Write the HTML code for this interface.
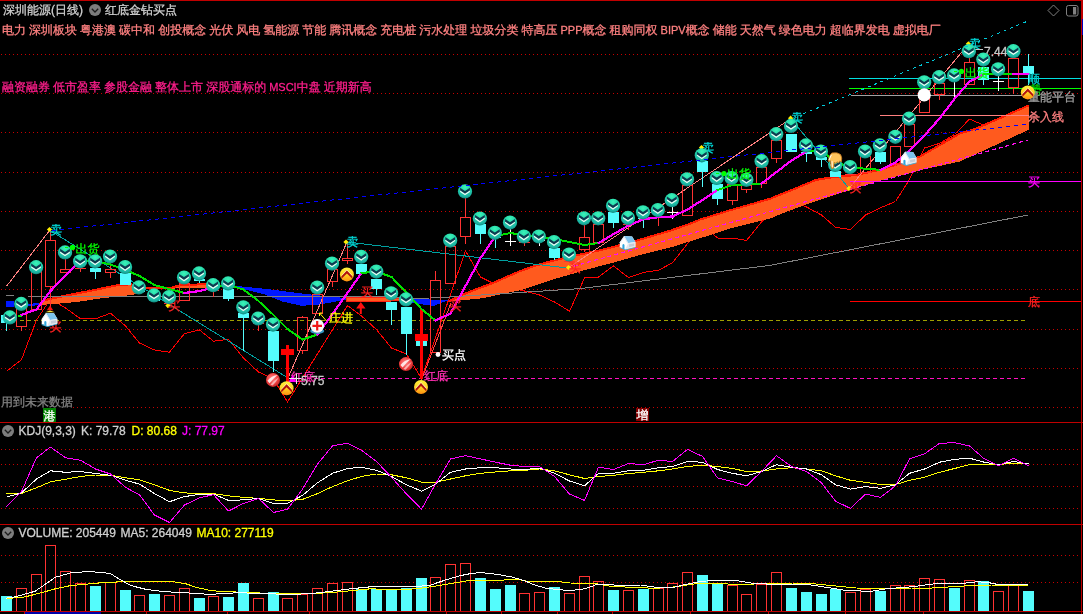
<!DOCTYPE html><html><head><meta charset="utf-8"><title>chart</title><style>html,body{margin:0;padding:0;background:#000;overflow:hidden}svg{display:block}</style></head><body><svg width="1083" height="614" viewBox="0 0 1083 614">
<defs>
<radialGradient id="gT" cx="50%" cy="22%" r="80%"><stop offset="0" stop-color="#3cf4b8"/><stop offset="0.45" stop-color="#22d4a8"/><stop offset="0.8" stop-color="#1cb4a4"/><stop offset="1" stop-color="#0e7c72"/></radialGradient>
<linearGradient id="gO" x1="0" y1="0" x2="0" y2="1"><stop offset="0" stop-color="#fff23c"/><stop offset="0.5" stop-color="#ffd422"/><stop offset="1" stop-color="#ff8e10"/></linearGradient>
<radialGradient id="gR" cx="45%" cy="40%" r="65%"><stop offset="0" stop-color="#ff8a8a"/><stop offset="0.6" stop-color="#f04040"/><stop offset="1" stop-color="#c02020"/></radialGradient>
<radialGradient id="gW" cx="50%" cy="45%" r="60%"><stop offset="0" stop-color="#ffffff"/><stop offset="0.85" stop-color="#f6f6f6"/><stop offset="1" stop-color="#c8c8c8"/></radialGradient>
<g id="icT"><circle r="7.1" fill="url(#gT)"/><path d="M-4.9,-3.6 L0,-0.4 L4.9,-3.6 L4.9,-0.9 L0,2.4 L-4.9,-0.9Z" fill="#0e3a50"/><path d="M-4.9,-0.9 L0,2.4 L4.9,-0.9 L4.9,0.5 L0,3.9 L-4.9,0.5Z" fill="#eef8f4"/></g>
<g id="icO"><circle r="7" fill="url(#gO)"/><path d="M-5.4,0.8 L0,-5 L5.4,0.8 L5.4,1.9 L0,-3.9 L-5.4,1.9Z" fill="#fff4cc"/><path d="M-5.4,1.9 L0,-3.9 L5.4,1.9 L5.4,4.4 L0,-1 L-5.4,4.4Z" fill="#b01010"/></g>
<g id="icR"><circle r="7" fill="url(#gR)"/><path d="M-5.6,0.8 Q-1.5,-4.4 4.6,-4.9 Q0.8,-2 -3.4,3.4Z" fill="#fff" opacity="0.82"/><path d="M-2.6,4.8 Q1,0.4 5.8,-2.4 Q3.4,1.8 -0.4,5.6Z" fill="#ffd8d8" opacity="0.7"/></g>
<g id="icP"><ellipse cx="0" cy="5.2" rx="7" ry="3" fill="#3aa8d8" opacity="0.9"/><circle r="6.9" fill="url(#gW)"/><path d="M-4.8,0H4.8M0,-4.8V4.8" stroke="#f01818" stroke-width="2.2" fill="none"/></g>
<g id="icH"><path d="M-7.8,-0.5 L-3.5,-6.6 L4.5,-6.2 L7.8,-0.8 L7.8,4.2 L-2.2,6.8 L-7.8,4.6Z" fill="#ffffff"/><path d="M-3.5,-6.6 L4.5,-6.2 L7.9,-0.6 L0.6,0.4Z" fill="#7cc4ee"/><path d="M-3.5,-6.6 L0.6,0.4 L0.3,1.4 L-3.6,-5 L-7.4,0.6 L-7.9,-0.3Z" fill="#dfe8f2"/><path d="M0.6,0.6 L7.8,-0.6 L7.8,4.2 L-2.2,6.8 L-2.2,6 Z" fill="#e4e8ee"/><path d="M1.5,1.6 L6.6,0.7 L6.6,3.2 L1.5,4.3Z" fill="#c4ccd8"/><path d="M-5.2,6 L-5.2,2.2 Q-4.2,0.6 -3.1,2.2 L-3.1,6.6Z" fill="#2ea4dc"/><path d="M-7.8,4.6 L-2.2,6.8 L7.8,4.2 L7.8,5 L-2.2,7.6 L-7.8,5.4Z" fill="#38b4e4"/></g>
<g id="icHand"><path d="M-3.2,-7.6 Q2.5,-8.8 5.6,-6 Q7.4,-3 6.4,1.2 L4.6,0.4 L3.8,2.2 L2,1.2 L1,2.8 L-0.8,1.8 L-1.4,7.4 Q-2.6,8.6 -3.8,7.4 L-4.4,0.2 L-6.6,0.8 Q-6.2,-5 -3.2,-7.6Z" fill="#ffc45c" stroke="#c47820" stroke-width="0.9"/><path d="M-3.6,-5.8 L-6,-0.6" stroke="#fff" stroke-width="1"/><path d="M-3,0.5 L-2.6,6.4" stroke="#fff2d8" stroke-width="1.1"/></g>
<g id="icDn"><circle r="6" fill="#7d7d7d"/><path d="M-3.2,-1.2 L0,2 L3.2,-1.2" fill="none" stroke="#1c1c1c" stroke-width="1.3"/></g>

</defs>
<rect width="1083" height="614" fill="#000"/>
<g font-family="'Liberation Sans','WenQuanYi Zen Hei','Noto Sans CJK SC',sans-serif">
<line x1="1" y1="54.5" x2="1081" y2="54.5" stroke="#c80000" stroke-width="1" stroke-dasharray="1 3" shape-rendering="crispEdges"/>
<line x1="1" y1="93.5" x2="1081" y2="93.5" stroke="#c80000" stroke-width="1" stroke-dasharray="1 3" shape-rendering="crispEdges"/>
<line x1="1" y1="132.5" x2="1081" y2="132.5" stroke="#c80000" stroke-width="1" stroke-dasharray="1 3" shape-rendering="crispEdges"/>
<line x1="1" y1="172.5" x2="1081" y2="172.5" stroke="#c80000" stroke-width="1" stroke-dasharray="1 3" shape-rendering="crispEdges"/>
<line x1="1" y1="211.5" x2="1081" y2="211.5" stroke="#c80000" stroke-width="1" stroke-dasharray="1 3" shape-rendering="crispEdges"/>
<line x1="1" y1="250.5" x2="1081" y2="250.5" stroke="#c80000" stroke-width="1" stroke-dasharray="1 3" shape-rendering="crispEdges"/>
<line x1="1" y1="289.5" x2="1081" y2="289.5" stroke="#c80000" stroke-width="1" stroke-dasharray="1 3" shape-rendering="crispEdges"/>
<line x1="1" y1="329.5" x2="1081" y2="329.5" stroke="#c80000" stroke-width="1" stroke-dasharray="1 3" shape-rendering="crispEdges"/>
<line x1="1" y1="368.5" x2="1081" y2="368.5" stroke="#c80000" stroke-width="1" stroke-dasharray="1 3" shape-rendering="crispEdges"/>
<line x1="1" y1="407.5" x2="1081" y2="407.5" stroke="#c80000" stroke-width="1" stroke-dasharray="1 3" shape-rendering="crispEdges"/>
<line x1="1" y1="449.5" x2="1081" y2="449.5" stroke="#c80000" stroke-width="1" stroke-dasharray="1 3" shape-rendering="crispEdges"/>
<line x1="1" y1="464.5" x2="1081" y2="464.5" stroke="#c80000" stroke-width="1" stroke-dasharray="1 3" shape-rendering="crispEdges"/>
<line x1="1" y1="486.5" x2="1081" y2="486.5" stroke="#c80000" stroke-width="1" stroke-dasharray="1 3" shape-rendering="crispEdges"/>
<line x1="1" y1="508.5" x2="1081" y2="508.5" stroke="#c80000" stroke-width="1" stroke-dasharray="1 3" shape-rendering="crispEdges"/>
<line x1="1" y1="555.5" x2="1081" y2="555.5" stroke="#c80000" stroke-width="1" stroke-dasharray="1 3" shape-rendering="crispEdges"/>
<line x1="1" y1="582.5" x2="1081" y2="582.5" stroke="#c80000" stroke-width="1" stroke-dasharray="1 3" shape-rendering="crispEdges"/>
<text x="3" y="14" fill="#d0d0d0" stroke="#d0d0d0" stroke-width="0.3" font-size="12" >深圳能源(日线)</text>
<use href="#icDn" x="95" y="10"/>
<text x="105" y="14" fill="#d0d0d0" stroke="#d0d0d0" stroke-width="0.3" font-size="12" >红底金钻买点</text>
<text x="2" y="34" fill="#ff8080" stroke="#ff8080" stroke-width="0.3" font-size="12" word-spacing="-0.3">电力 深圳板块 粤港澳 碳中和 创投概念 光伏 风电 氢能源 节能 腾讯概念 充电桩 污水处理 垃圾分类 特高压 <tspan font-size="11">PPP</tspan>概念 租购同权 <tspan font-size="11">BIPV</tspan>概念 储能 天然气 绿色电力 超临界发电 虚拟电厂</text>
<text x="2" y="91" fill="#ff1e8c" stroke="#ff1e8c" stroke-width="0.3" font-size="12" word-spacing="-0.3">融资融券 低市盈率 参股金融 整体上市 深股通标的 <tspan font-size="11">MSCI</tspan>中盘 近期新高</text>
<line x1="20" y1="320.5" x2="1028" y2="320.5" stroke="#a0a000" stroke-width="1" stroke-dasharray="4 3" shape-rendering="crispEdges"/>
<line x1="300" y1="378.5" x2="1028" y2="378.5" stroke="#ff10c0" stroke-width="1" stroke-dasharray="4 3" shape-rendering="crispEdges"/>
<polyline points="6.5,371.3 21.5,359.6 36.5,320.0 50.5,299.0 65.5,308.0 80.5,318.8 95.5,318.8 110.5,313.2 125.5,326.0 139.5,343.0 154.5,350.0 169.5,352.2 184.5,333.5 199.5,330.0 213.5,341.2 228.5,339.4 243.5,358.0 258.5,372.0 273.5,379.0 287.5,402.0 347.5,305.6 361.5,316.0 376.5,329.6 391.5,348.0 406.5,354.0 421.5,378.5 465.5,250.8 480.5,277.0 495.5,284.5 510.5,288.0 524.5,291.0 539.5,295.0 554.5,302.0 569.5,311.2 584.5,278.0 598.5,277.1 613.5,265.9 628.5,277.6 643.5,272.4 658.5,270.2 672.5,262.8 687.5,243.6 702.5,225.0 717.5,238.0 732.5,238.0 746.5,240.5 761.5,222.0 776.5,206.0 791.5,200.0 806.5,207.0 821.5,215.0 835.5,227.3 850.5,229.5 865.5,215.0 880.5,207.8 895.5,201.5 909.5,179.5 924.5,148.0 939.5,143.4 954.5,134.5 969.5,119.1 983.5,125.0 998.5,122.0" fill="none" stroke="#ff0000" stroke-width="1" stroke-linejoin="round" shape-rendering="crispEdges" />
<polygon points="38.0,304.5 44.0,299.5 58.6,296.3 97.7,288.5 119.0,284.0 131.0,283.6 147.0,287.2 170.0,287.2 180.0,284.5 204.0,283.4 236.0,286.0 236.0,286.0 204.0,288.5 180.0,288.4 170.0,288.6 147.0,288.8 140.0,293.0 133.7,294.7 97.7,298.8 77.0,302.0 58.6,303.6 45.0,304.6 38.0,305.5" fill="#ff5a1e" shape-rendering="crispEdges"/>
<polyline points="38.0,305.3 44.0,300.3 58.6,297.1 97.7,289.3 119.0,284.8 131.0,284.4 147.0,288.0 170.0,288.0 180.0,285.3 204.0,284.2 236.0,286.8" fill="none" stroke="#ff1800" stroke-width="2" stroke-linejoin="round" shape-rendering="crispEdges" />
<polygon points="235.5,285.9 264.3,288.7 301.4,293.4 329.3,296.5 346.0,298.0 346.0,299.5 334.8,301.7 320.0,304.5 301.4,305.8 282.9,301.7 264.3,294.3 245.7,289.6" fill="#0018ff" shape-rendering="crispEdges"/>
<polygon points="346.0,298.0 380.0,297.5 399.0,298.5 399.0,300.5 380.0,301.7 346.0,301.0" fill="#ff5a1e" stroke="#ff2010" stroke-width="1" shape-rendering="crispEdges"/>
<polygon points="399.0,299.2 449.6,299.7 433.9,305.8 415.0,303.5" fill="#0018ff" shape-rendering="crispEdges"/>
<polygon points="449.3,300.3 463.9,293.3 477.7,287.8 491.6,282.9 505.4,276.7 519.3,270.7 533.1,265.6 547.0,261.5 560.8,258.0 574.7,254.8 600.0,249.5 610.0,247.0 640.0,238.8 670.0,230.0 690.0,223.0 700.0,218.8 730.0,209.5 770.0,198.0 797.7,186.8 815.7,179.2 832.3,176.4 855.9,174.3 880.8,168.8 900.2,162.5 920.0,155.6 960.0,132.7 975.9,127.9 1028.8,104.6 1028.8,129.7 960.0,161.5 920.0,170.2 908.5,173.6 887.7,178.5 867.0,184.7 847.6,190.9 825.4,197.9 803.2,205.5 778.3,215.0 770.0,218.6 730.0,228.5 700.0,238.3 670.0,247.6 640.0,255.0 610.0,263.6 600.0,266.1 584.4,270.1 571.9,274.1 555.3,278.8 538.6,284.3 522.0,289.9 505.4,293.3 483.2,298.2 449.3,301.6" fill="#ff5a1e" shape-rendering="crispEdges"/>
<polyline points="449.3,301.1 463.9,294.1 477.7,288.6 491.6,283.7 505.4,277.5 519.3,271.5 533.1,266.4 547.0,262.3 560.8,258.8 574.7,255.6 600.0,250.3 610.0,247.8 640.0,239.6 670.0,230.8 690.0,223.8 700.0,219.6 730.0,210.3 770.0,198.8 797.7,187.6 815.7,180.0 832.3,177.2 855.9,175.1 880.8,169.6 900.2,163.3 920.0,156.4 960.0,133.5 975.9,128.7 1028.8,105.4" fill="none" stroke="#ff1800" stroke-width="2" stroke-linejoin="round" shape-rendering="crispEdges" />
<line x1="567" y1="268" x2="1028" y2="140" stroke="#ff10f0" stroke-width="1.2" stroke-dasharray="4 3" shape-rendering="crispEdges"/>
<rect x="6" y="301" width="8" height="6" fill="#0018ff"/>
<polygon points="28.0,304.0 38.5,303.0 38.5,305.2 28.0,306.2" fill="#0018ff" shape-rendering="crispEdges"/>
<g shape-rendering="crispEdges">
<rect x="849" y="78" width="232" height="1" fill="#00e0e0" />
<rect x="849" y="88" width="232" height="1" fill="#00ff00" />
<rect x="851" y="95" width="171" height="1" fill="#a0a0a0" />
<rect x="880" y="115" width="149" height="1" fill="#ff8080" />
<rect x="850" y="181" width="231" height="1" fill="#ff00ff" />
<rect x="850" y="301" width="231" height="1" fill="#ff0000" />
</g>
<polyline points="5.6,295.6 14.0,295.6" fill="none" stroke="#808080" stroke-width="1" stroke-linejoin="round" shape-rendering="crispEdges" />
<polyline points="28.0,296.6 200.0,296.6 390.0,296.5 413.4,298.8 450.0,297.0 580.0,288.6 770.0,265.4 900.0,240.0 1028.0,215.0" fill="none" stroke="#808080" stroke-width="1" stroke-linejoin="round" shape-rendering="crispEdges" />
<polyline points="6.5,286.3 49.5,230.5" fill="none" stroke="#ff8080" stroke-width="1" stroke-linejoin="round" shape-rendering="crispEdges" />
<polyline points="50.9,231.0 288.0,378.0" fill="none" stroke="#00a0a0" stroke-width="1" stroke-linejoin="round" shape-rendering="crispEdges" />
<polyline points="288.0,378.0 347.0,242.0" fill="none" stroke="#ff8080" stroke-width="1" stroke-linejoin="round" shape-rendering="crispEdges" />
<polyline points="347.0,242.0 567.0,268.0" fill="none" stroke="#00a0a0" stroke-width="1" stroke-linejoin="round" shape-rendering="crispEdges" />
<polyline points="421.5,380.0 451.0,303.0" fill="none" stroke="#ff4040" stroke-width="1" stroke-linejoin="round" shape-rendering="crispEdges" />
<polyline points="568.3,267.8 790.6,118.8" fill="none" stroke="#ff8080" stroke-width="1" stroke-linejoin="round" shape-rendering="crispEdges" />
<polyline points="790.6,118.5 849.0,188.4" fill="none" stroke="#00a0a0" stroke-width="1" stroke-linejoin="round" shape-rendering="crispEdges" />
<polyline points="849.0,188.4 968.4,44.0" fill="none" stroke="#ff8080" stroke-width="1" stroke-linejoin="round" shape-rendering="crispEdges" />
<g shape-rendering="crispEdges">
<rect x="6" y="315.0" width="1" height="15.5" fill="#54fcfc"/>
<rect x="1" y="315" width="11" height="8" fill="#54fcfc"/>
<rect x="21" y="325.6" width="1" height="4.9" fill="#ff3232"/>
<rect x="16.5" y="308.5" width="10" height="18" fill="none" stroke="#ff3232" stroke-width="1"/>
<rect x="31.5" y="271.5" width="10" height="38" fill="none" stroke="#ff3232" stroke-width="1"/>
<rect x="50" y="230.9" width="1" height="9.1" fill="#ff3232"/>
<rect x="50" y="286.0" width="1" height="21.0" fill="#ff3232"/>
<rect x="45.5" y="240.5" width="10" height="46" fill="none" stroke="#ff3232" stroke-width="1"/>
<rect x="65" y="259.0" width="1" height="10.0" fill="#ff3232"/>
<rect x="60.5" y="269.5" width="10" height="3" fill="none" stroke="#ff3232" stroke-width="1"/>
<rect x="80" y="267.0" width="1" height="4.9" fill="#ff3232"/>
<rect x="75" y="268" width="11" height="1" fill="#ff3232"/>
<rect x="95" y="268.0" width="1" height="10.7" fill="#54fcfc"/>
<rect x="90" y="268" width="11" height="4" fill="#54fcfc"/>
<rect x="110" y="263.0" width="1" height="6.0" fill="#ff3232"/>
<rect x="110" y="272.5" width="1" height="5.2" fill="#ff3232"/>
<rect x="105.5" y="269.5" width="10" height="3" fill="none" stroke="#ff3232" stroke-width="1"/>
<rect x="125" y="273.4" width="1" height="11.2" fill="#54fcfc"/>
<rect x="120" y="273" width="11" height="12" fill="#54fcfc"/>
<rect x="139" y="291.0" width="1" height="1.5" fill="#54fcfc"/>
<rect x="134" y="291" width="11" height="1" fill="#54fcfc"/>
<rect x="154" y="299.0" width="1" height="1.6" fill="#54fcfc"/>
<rect x="149" y="299" width="11" height="2" fill="#54fcfc"/>
<rect x="169" y="303.0" width="1" height="1.5" fill="#ff3232"/>
<rect x="164" y="303" width="11" height="1" fill="#ff3232"/>
<rect x="179.5" y="283.5" width="10" height="17" fill="none" stroke="#ff3232" stroke-width="1"/>
<rect x="199" y="278.8" width="1" height="4.0" fill="#54fcfc"/>
<rect x="194" y="279" width="11" height="2" fill="#54fcfc"/>
<rect x="213" y="290.0" width="1" height="7.0" fill="#ff3232"/>
<rect x="208" y="290" width="11" height="1" fill="#ff3232"/>
<rect x="228" y="289.0" width="1" height="11.8" fill="#54fcfc"/>
<rect x="223" y="289" width="11" height="10" fill="#54fcfc"/>
<rect x="243" y="313.2" width="1" height="37.8" fill="#54fcfc"/>
<rect x="238" y="313" width="11" height="5" fill="#54fcfc"/>
<rect x="258" y="323.0" width="1" height="7.6" fill="#ff3232"/>
<rect x="253" y="323" width="11" height="1" fill="#ff3232"/>
<rect x="273" y="330.6" width="1" height="40.9" fill="#54fcfc"/>
<rect x="268" y="331" width="11" height="30" fill="#54fcfc"/>
<rect x="302" y="316.3" width="1" height="1.0" fill="#ff3232"/>
<rect x="302" y="350.1" width="1" height="3.8" fill="#ff3232"/>
<rect x="297.5" y="317.5" width="10" height="33" fill="none" stroke="#ff3232" stroke-width="1"/>
<rect x="317" y="294.0" width="1" height="0.3" fill="#ff3232"/>
<rect x="312.5" y="294.5" width="10" height="19" fill="none" stroke="#ff3232" stroke-width="1"/>
<rect x="332" y="281.3" width="1" height="5.6" fill="#ff3232"/>
<rect x="327.5" y="269.5" width="10" height="12" fill="none" stroke="#ff3232" stroke-width="1"/>
<rect x="347" y="243.2" width="1" height="14.8" fill="#ff3232"/>
<rect x="347" y="260.5" width="1" height="3.1" fill="#ff3232"/>
<rect x="342.5" y="258.5" width="10" height="2" fill="none" stroke="#ff3232" stroke-width="1"/>
<rect x="361" y="264.0" width="1" height="9.9" fill="#54fcfc"/>
<rect x="356" y="264" width="11" height="10" fill="#54fcfc"/>
<rect x="376" y="279.0" width="1" height="16.2" fill="#54fcfc"/>
<rect x="371" y="279" width="11" height="10" fill="#54fcfc"/>
<rect x="391" y="302.5" width="1" height="22.3" fill="#54fcfc"/>
<rect x="386" y="302" width="11" height="8" fill="#54fcfc"/>
<rect x="406" y="307.1" width="1" height="47.4" fill="#54fcfc"/>
<rect x="401" y="307" width="11" height="27" fill="#54fcfc"/>
<rect x="435" y="271.2" width="1" height="8.5" fill="#ff3232"/>
<rect x="430.5" y="280.5" width="10" height="72" fill="none" stroke="#ff3232" stroke-width="1"/>
<rect x="445.5" y="246.5" width="10" height="37" fill="none" stroke="#ff3232" stroke-width="1"/>
<rect x="465" y="198.0" width="1" height="19.4" fill="#ff3232"/>
<rect x="465" y="236.3" width="1" height="7.6" fill="#ff3232"/>
<rect x="460.5" y="217.5" width="10" height="19" fill="none" stroke="#ff3232" stroke-width="1"/>
<rect x="480" y="223.9" width="1" height="20.0" fill="#54fcfc"/>
<rect x="475" y="224" width="11" height="10" fill="#54fcfc"/>
<rect x="495" y="237.0" width="1" height="10.6" fill="#54fcfc"/>
<rect x="490" y="237" width="11" height="1" fill="#54fcfc"/>
<rect x="510" y="229.0" width="1" height="16.8" fill="#ffffff"/>
<rect x="505" y="241" width="11" height="1" fill="#ffffff"/>
<rect x="524" y="241.6" width="1" height="4.2" fill="#ff3232"/>
<rect x="519" y="242" width="11" height="1" fill="#ff3232"/>
<rect x="539" y="240.0" width="1" height="5.8" fill="#ffffff"/>
<rect x="534" y="240" width="11" height="1" fill="#ffffff"/>
<rect x="554" y="248.0" width="1" height="12.0" fill="#54fcfc"/>
<rect x="549" y="248" width="11" height="10" fill="#54fcfc"/>
<rect x="569" y="260.0" width="1" height="3.0" fill="#ff3232"/>
<rect x="564" y="261" width="11" height="1" fill="#ff3232"/>
<rect x="584" y="224.7" width="1" height="11.9" fill="#ff3232"/>
<rect x="584" y="248.7" width="1" height="2.9" fill="#ff3232"/>
<rect x="579.5" y="237.5" width="10" height="12" fill="none" stroke="#ff3232" stroke-width="1"/>
<rect x="593.5" y="224.5" width="10" height="18" fill="none" stroke="#ff3232" stroke-width="1"/>
<rect x="613" y="212.0" width="1" height="15.5" fill="#54fcfc"/>
<rect x="608" y="212" width="11" height="11" fill="#54fcfc"/>
<rect x="628" y="224.0" width="1" height="5.7" fill="#ff3232"/>
<rect x="623" y="224" width="11" height="1" fill="#ff3232"/>
<rect x="643" y="218.0" width="1" height="9.5" fill="#54fcfc"/>
<rect x="638" y="218" width="11" height="1" fill="#54fcfc"/>
<rect x="658" y="216.4" width="1" height="9.2" fill="#ff3232"/>
<rect x="653" y="217" width="11" height="1" fill="#ff3232"/>
<rect x="672" y="207.0" width="1" height="11.8" fill="#ffffff"/>
<rect x="667" y="212" width="11" height="1" fill="#ffffff"/>
<rect x="682.5" y="185.5" width="10" height="30" fill="none" stroke="#ff3232" stroke-width="1"/>
<rect x="702" y="161.2" width="1" height="25.4" fill="#54fcfc"/>
<rect x="697" y="161" width="11" height="11" fill="#54fcfc"/>
<rect x="717" y="183.9" width="1" height="20.8" fill="#54fcfc"/>
<rect x="712" y="184" width="11" height="15" fill="#54fcfc"/>
<rect x="732" y="199.6" width="1" height="5.1" fill="#ff3232"/>
<rect x="727.5" y="184.5" width="10" height="16" fill="none" stroke="#ff3232" stroke-width="1"/>
<rect x="746" y="189.4" width="1" height="3.4" fill="#ff3232"/>
<rect x="741.5" y="185.5" width="10" height="4" fill="none" stroke="#ff3232" stroke-width="1"/>
<rect x="761" y="182.9" width="1" height="5.5" fill="#ff3232"/>
<rect x="756.5" y="167.5" width="10" height="16" fill="none" stroke="#ff3232" stroke-width="1"/>
<rect x="776" y="158.3" width="1" height="5.1" fill="#ff3232"/>
<rect x="771.5" y="140.5" width="10" height="18" fill="none" stroke="#ff3232" stroke-width="1"/>
<rect x="791" y="133.6" width="1" height="18.2" fill="#54fcfc"/>
<rect x="786" y="134" width="11" height="18" fill="#54fcfc"/>
<rect x="806" y="152.2" width="1" height="10.2" fill="#54fcfc"/>
<rect x="801" y="152" width="11" height="2" fill="#54fcfc"/>
<rect x="821" y="157.2" width="1" height="9.8" fill="#54fcfc"/>
<rect x="816" y="157" width="11" height="3" fill="#54fcfc"/>
<rect x="835" y="170.8" width="1" height="6.1" fill="#54fcfc"/>
<rect x="830" y="171" width="11" height="6" fill="#54fcfc"/>
<rect x="850" y="173.0" width="1" height="1.5" fill="#ff3232"/>
<rect x="845" y="174" width="11" height="1" fill="#ff3232"/>
<rect x="860.5" y="156.5" width="10" height="16" fill="none" stroke="#ff3232" stroke-width="1"/>
<rect x="880" y="152.2" width="1" height="11.7" fill="#54fcfc"/>
<rect x="875" y="152" width="11" height="10" fill="#54fcfc"/>
<rect x="895" y="163.6" width="1" height="2.5" fill="#ff3232"/>
<rect x="890.5" y="146.5" width="10" height="18" fill="none" stroke="#ff3232" stroke-width="1"/>
<rect x="904.5" y="124.5" width="10" height="22" fill="none" stroke="#ff3232" stroke-width="1"/>
<rect x="924" y="88.7" width="1" height="9.3" fill="#ff3232"/>
<rect x="924" y="111.8" width="1" height="1.4" fill="#ff3232"/>
<rect x="919.5" y="98.5" width="10" height="14" fill="none" stroke="#ff3232" stroke-width="1"/>
<rect x="939" y="94.4" width="1" height="5.9" fill="#ff3232"/>
<rect x="934.5" y="83.5" width="10" height="11" fill="none" stroke="#ff3232" stroke-width="1"/>
<rect x="954" y="76.0" width="1" height="20.5" fill="#ffffff"/>
<rect x="949" y="76" width="11" height="1" fill="#ffffff"/>
<rect x="969" y="57.0" width="1" height="5.3" fill="#ff3232"/>
<rect x="964.5" y="62.5" width="10" height="22" fill="none" stroke="#ff3232" stroke-width="1"/>
<rect x="983" y="67.4" width="1" height="17.2" fill="#54fcfc"/>
<rect x="978" y="67" width="11" height="13" fill="#54fcfc"/>
<rect x="998" y="75.7" width="1" height="14.9" fill="#ffffff"/>
<rect x="993" y="81" width="11" height="1" fill="#ffffff"/>
<rect x="1013" y="87.4" width="1" height="6.9" fill="#ff3232"/>
<rect x="1008.5" y="58.5" width="10" height="29" fill="none" stroke="#ff3232" stroke-width="1"/>
<rect x="1028" y="54.4" width="1" height="30.6" fill="#54fcfc"/>
<rect x="1023" y="66" width="11" height="8" fill="#54fcfc"/>
<rect x="286" y="345" width="3" height="37" fill="#ff0000"/><rect x="281" y="349" width="13" height="6" fill="#ff0000"/>
<rect x="416" y="341" width="11" height="5" fill="#54fcfc"/><rect x="420" y="309" width="3" height="70" fill="#ff0000"/><rect x="415" y="334" width="13" height="7" fill="#ff0000"/>
</g>
<rect x="18" y="315" width="4" height="2" fill="#00e000"/>
<line x1="21.5" y1="314.8" x2="36.5" y2="309.5" stroke="#ff00ff" stroke-width="2.2" stroke-linecap="square" shape-rendering="crispEdges"/>
<line x1="36.5" y1="309.5" x2="50.5" y2="291" stroke="#ff00ff" stroke-width="2.2" stroke-linecap="square" shape-rendering="crispEdges"/>
<line x1="50.5" y1="291" x2="65.5" y2="275.7" stroke="#ff00ff" stroke-width="2.2" stroke-linecap="square" shape-rendering="crispEdges"/>
<line x1="65.5" y1="275.7" x2="80.5" y2="261" stroke="#ff00ff" stroke-width="2.2" stroke-linecap="square" shape-rendering="crispEdges"/>
<line x1="80.5" y1="261" x2="95.5" y2="261" stroke="#00e000" stroke-width="2" stroke-linecap="square" shape-rendering="crispEdges"/>
<line x1="95.5" y1="261" x2="110.5" y2="264.5" stroke="#00e000" stroke-width="2" stroke-linecap="square" shape-rendering="crispEdges"/>
<line x1="110.5" y1="264.5" x2="125.5" y2="270" stroke="#00e000" stroke-width="2" stroke-linecap="square" shape-rendering="crispEdges"/>
<line x1="125.5" y1="270" x2="139.5" y2="276" stroke="#00e000" stroke-width="2" stroke-linecap="square" shape-rendering="crispEdges"/>
<line x1="139.5" y1="276" x2="154.5" y2="285" stroke="#00e000" stroke-width="2" stroke-linecap="square" shape-rendering="crispEdges"/>
<line x1="154.5" y1="285" x2="169.5" y2="289.2" stroke="#00e000" stroke-width="2" stroke-linecap="square" shape-rendering="crispEdges"/>
<line x1="169.5" y1="289.2" x2="184.5" y2="293" stroke="#00e000" stroke-width="2" stroke-linecap="square" shape-rendering="crispEdges"/>
<line x1="184.5" y1="293" x2="199.5" y2="291" stroke="#ff00ff" stroke-width="2.2" stroke-linecap="square" shape-rendering="crispEdges"/>
<line x1="199.5" y1="291" x2="213.5" y2="287.5" stroke="#ff00ff" stroke-width="2.2" stroke-linecap="square" shape-rendering="crispEdges"/>
<line x1="213.5" y1="287.5" x2="228.5" y2="285" stroke="#00e000" stroke-width="2" stroke-linecap="square" shape-rendering="crispEdges"/>
<line x1="228.5" y1="285" x2="243.5" y2="289.5" stroke="#00e000" stroke-width="2" stroke-linecap="square" shape-rendering="crispEdges"/>
<line x1="243.5" y1="289.5" x2="258.5" y2="301" stroke="#00e000" stroke-width="2" stroke-linecap="square" shape-rendering="crispEdges"/>
<line x1="258.5" y1="301" x2="273.5" y2="315" stroke="#00e000" stroke-width="2" stroke-linecap="square" shape-rendering="crispEdges"/>
<line x1="273.5" y1="315" x2="287.5" y2="329" stroke="#00e000" stroke-width="2" stroke-linecap="square" shape-rendering="crispEdges"/>
<line x1="287.5" y1="329" x2="302.5" y2="339.5" stroke="#00e000" stroke-width="2" stroke-linecap="square" shape-rendering="crispEdges"/>
<line x1="302.5" y1="339.5" x2="317.5" y2="334.5" stroke="#00e000" stroke-width="2" stroke-linecap="square" shape-rendering="crispEdges"/>
<line x1="317.5" y1="334.5" x2="332.5" y2="314" stroke="#ff00ff" stroke-width="2.2" stroke-linecap="square" shape-rendering="crispEdges"/>
<line x1="332.5" y1="314" x2="347.5" y2="293" stroke="#ff00ff" stroke-width="2.2" stroke-linecap="square" shape-rendering="crispEdges"/>
<line x1="347.5" y1="293" x2="361.5" y2="273" stroke="#ff00ff" stroke-width="2.2" stroke-linecap="square" shape-rendering="crispEdges"/>
<line x1="361.5" y1="273" x2="376.5" y2="271.5" stroke="#00e000" stroke-width="2" stroke-linecap="square" shape-rendering="crispEdges"/>
<line x1="376.5" y1="271.5" x2="391.5" y2="277" stroke="#00e000" stroke-width="2" stroke-linecap="square" shape-rendering="crispEdges"/>
<line x1="391.5" y1="277" x2="406.5" y2="292.5" stroke="#00e000" stroke-width="2" stroke-linecap="square" shape-rendering="crispEdges"/>
<line x1="406.5" y1="292.5" x2="421.5" y2="309" stroke="#00e000" stroke-width="2" stroke-linecap="square" shape-rendering="crispEdges"/>
<line x1="421.5" y1="309" x2="435.5" y2="320.5" stroke="#00e000" stroke-width="2" stroke-linecap="square" shape-rendering="crispEdges"/>
<line x1="435.5" y1="320.5" x2="450.5" y2="313.5" stroke="#ff00ff" stroke-width="2.2" stroke-linecap="square" shape-rendering="crispEdges"/>
<line x1="450.5" y1="313.5" x2="465.5" y2="286" stroke="#ff00ff" stroke-width="2.2" stroke-linecap="square" shape-rendering="crispEdges"/>
<line x1="465.5" y1="286" x2="480.5" y2="258" stroke="#ff00ff" stroke-width="2.2" stroke-linecap="square" shape-rendering="crispEdges"/>
<line x1="480.5" y1="258" x2="495.5" y2="236" stroke="#ff00ff" stroke-width="2.2" stroke-linecap="square" shape-rendering="crispEdges"/>
<line x1="495.5" y1="236" x2="510.5" y2="233.1" stroke="#00e000" stroke-width="2" stroke-linecap="square" shape-rendering="crispEdges"/>
<line x1="510.5" y1="233.1" x2="524.5" y2="235" stroke="#00e000" stroke-width="2" stroke-linecap="square" shape-rendering="crispEdges"/>
<line x1="524.5" y1="235" x2="539.5" y2="236.5" stroke="#00e000" stroke-width="2" stroke-linecap="square" shape-rendering="crispEdges"/>
<line x1="539.5" y1="236.5" x2="554.5" y2="239" stroke="#00e000" stroke-width="2" stroke-linecap="square" shape-rendering="crispEdges"/>
<line x1="554.5" y1="239" x2="569.5" y2="242" stroke="#00e000" stroke-width="2" stroke-linecap="square" shape-rendering="crispEdges"/>
<line x1="569.5" y1="242" x2="584.5" y2="245" stroke="#00e000" stroke-width="2" stroke-linecap="square" shape-rendering="crispEdges"/>
<line x1="584.5" y1="245" x2="598.5" y2="243" stroke="#00e000" stroke-width="2" stroke-linecap="square" shape-rendering="crispEdges"/>
<line x1="598.5" y1="243" x2="613.5" y2="234.2" stroke="#ff00ff" stroke-width="2.2" stroke-linecap="square" shape-rendering="crispEdges"/>
<line x1="613.5" y1="234.2" x2="628.5" y2="225.5" stroke="#ff00ff" stroke-width="2.2" stroke-linecap="square" shape-rendering="crispEdges"/>
<line x1="628.5" y1="225.5" x2="643.5" y2="219.3" stroke="#ff00ff" stroke-width="2.2" stroke-linecap="square" shape-rendering="crispEdges"/>
<line x1="643.5" y1="219.3" x2="658.5" y2="217.2" stroke="#ff00ff" stroke-width="2.2" stroke-linecap="square" shape-rendering="crispEdges"/>
<line x1="658.5" y1="217.2" x2="672.5" y2="216.5" stroke="#ff00ff" stroke-width="2.2" stroke-linecap="square" shape-rendering="crispEdges"/>
<line x1="672.5" y1="216.5" x2="687.5" y2="209.5" stroke="#ff00ff" stroke-width="2.2" stroke-linecap="square" shape-rendering="crispEdges"/>
<line x1="687.5" y1="209.5" x2="702.5" y2="200" stroke="#ff00ff" stroke-width="2.2" stroke-linecap="square" shape-rendering="crispEdges"/>
<line x1="702.5" y1="200" x2="717.5" y2="190" stroke="#ff00ff" stroke-width="2.2" stroke-linecap="square" shape-rendering="crispEdges"/>
<line x1="717.5" y1="190" x2="732.5" y2="185" stroke="#00e000" stroke-width="2" stroke-linecap="square" shape-rendering="crispEdges"/>
<line x1="732.5" y1="185" x2="746.5" y2="184.5" stroke="#00e000" stroke-width="2" stroke-linecap="square" shape-rendering="crispEdges"/>
<line x1="746.5" y1="184.5" x2="761.5" y2="183.5" stroke="#00e000" stroke-width="2" stroke-linecap="square" shape-rendering="crispEdges"/>
<line x1="761.5" y1="183.5" x2="776.5" y2="172" stroke="#ff00ff" stroke-width="2.2" stroke-linecap="square" shape-rendering="crispEdges"/>
<line x1="776.5" y1="172" x2="791.5" y2="160.5" stroke="#ff00ff" stroke-width="2.2" stroke-linecap="square" shape-rendering="crispEdges"/>
<line x1="791.5" y1="160.5" x2="806.5" y2="151.5" stroke="#ff00ff" stroke-width="2.2" stroke-linecap="square" shape-rendering="crispEdges"/>
<line x1="806.5" y1="151.5" x2="821.5" y2="151" stroke="#00e000" stroke-width="2" stroke-linecap="square" shape-rendering="crispEdges"/>
<line x1="821.5" y1="151" x2="835.5" y2="162" stroke="#00e000" stroke-width="2" stroke-linecap="square" shape-rendering="crispEdges"/>
<line x1="835.5" y1="162" x2="850.5" y2="167.5" stroke="#00e000" stroke-width="2" stroke-linecap="square" shape-rendering="crispEdges"/>
<line x1="850.5" y1="167.5" x2="865.5" y2="168.7" stroke="#00e000" stroke-width="2" stroke-linecap="square" shape-rendering="crispEdges"/>
<line x1="865.5" y1="168.7" x2="880.5" y2="169.9" stroke="#00e000" stroke-width="2" stroke-linecap="square" shape-rendering="crispEdges"/>
<line x1="880.5" y1="169.9" x2="895.5" y2="162.5" stroke="#ff00ff" stroke-width="2.2" stroke-linecap="square" shape-rendering="crispEdges"/>
<line x1="895.5" y1="162.5" x2="909.5" y2="150.5" stroke="#ff00ff" stroke-width="2.2" stroke-linecap="square" shape-rendering="crispEdges"/>
<line x1="909.5" y1="150.5" x2="924.5" y2="135.5" stroke="#ff00ff" stroke-width="2.2" stroke-linecap="square" shape-rendering="crispEdges"/>
<line x1="924.5" y1="135.5" x2="939.5" y2="118.5" stroke="#ff00ff" stroke-width="2.2" stroke-linecap="square" shape-rendering="crispEdges"/>
<line x1="939.5" y1="118.5" x2="954.5" y2="99" stroke="#ff00ff" stroke-width="2.2" stroke-linecap="square" shape-rendering="crispEdges"/>
<line x1="954.5" y1="99" x2="969.5" y2="81.4" stroke="#ff00ff" stroke-width="2.2" stroke-linecap="square" shape-rendering="crispEdges"/>
<line x1="969.5" y1="81.4" x2="983.5" y2="74.5" stroke="#ff00ff" stroke-width="2.2" stroke-linecap="square" shape-rendering="crispEdges"/>
<line x1="983.5" y1="74.5" x2="998.5" y2="73.9" stroke="#00e000" stroke-width="2" stroke-linecap="square" shape-rendering="crispEdges"/>
<line x1="998.5" y1="73.9" x2="1013.5" y2="73.9" stroke="#00e000" stroke-width="2" stroke-linecap="square" shape-rendering="crispEdges"/>
<line x1="1013.5" y1="73.9" x2="1028.5" y2="73.9" stroke="#ff00ff" stroke-width="2.2" stroke-linecap="square" shape-rendering="crispEdges"/>
<path d="M46.9,229.5 L49.5,226.9 L52.1,229.5 L49.5,232.1Z" fill="#ffee00"/>
<text x="49.9" y="233.5" fill="#00dada" stroke="#00dada" stroke-width="0.3" font-size="12" >卖</text>
<path d="M343.4,242 L346,239.4 L348.6,242 L346,244.6Z" fill="#ffee00"/>
<text x="346.4" y="246" fill="#00dada" stroke="#00dada" stroke-width="0.3" font-size="12" >卖</text>
<path d="M698.9,147.6 L701.5,145.0 L704.1,147.6 L701.5,150.2Z" fill="#ffee00"/>
<text x="701.9" y="151.6" fill="#00dada" stroke="#00dada" stroke-width="0.3" font-size="12" >卖</text>
<path d="M788.0,118.2 L790.6,115.60000000000001 L793.2,118.2 L790.6,120.8Z" fill="#ffee00"/>
<text x="791.0" y="122.2" fill="#00dada" stroke="#00dada" stroke-width="0.3" font-size="12" >卖</text>
<path d="M965.8,43.8 L968.4,41.199999999999996 L971.0,43.8 L968.4,46.4Z" fill="#ffee00"/>
<text x="968.8" y="47.8" fill="#00dada" stroke="#00dada" stroke-width="0.3" font-size="12" >卖</text>
<path d="M165.3,305.6 L167.9,303.0 L170.5,305.6 L167.9,308.20000000000005Z" fill="#ffee00"/>
<text x="168.3" y="309.6" fill="#ff2020" stroke="#ff2020" stroke-width="0.3" font-size="12" >买</text>
<path d="M565.9,267.5 L568.5,264.9 L571.1,267.5 L568.5,270.1Z" fill="#ffee00"/>
<text x="568.9" y="271.5" fill="#ff2020" stroke="#ff2020" stroke-width="0.3" font-size="12" >买</text>
<path d="M846.4,188.4 L849,185.8 L851.6,188.4 L849,191.0Z" fill="#ffee00"/>
<text x="849.4" y="192.4" fill="#ff2020" stroke="#ff2020" stroke-width="0.3" font-size="12" >买</text>
<text x="49.5" y="330.5" fill="#ff2020" stroke="#ff2020" stroke-width="0.3" font-size="12" >买</text>
<text x="449.5" y="309.5" fill="#ff2020" stroke="#ff2020" stroke-width="0.3" font-size="12" >买</text>
<text x="361" y="296" fill="#ff2020" stroke="#ff2020" stroke-width="0.3" font-size="12" >买</text>
<path d="M360.8,302 L365.5,308.5 L361.8,308.5 L361.8,314 L359.8,314 L359.8,308.5 L356.1,308.5Z" fill="#ff1010"/>
<text x="329" y="322" fill="#ffff00" stroke="#ffff00" stroke-width="0.3" font-size="12" >庄进</text>
<path d="M319.5,313 L326.5,321 M319.5,313 h3 M319.5,313 v3" stroke="#ffff00" stroke-width="1" fill="none"/>
<text x="291" y="381" fill="#ff30b0" stroke="#ff30b0" stroke-width="0.3" font-size="12" >红底</text>
<text x="301" y="384.5" fill="#c8c8c8" stroke="#c8c8c8" stroke-width="0.3" font-size="12" >5.75</text>
<path d="M288.5,382 L292.5,375 L296.5,382Z" fill="#ff00ff"/><path d="M289,378.5 H301 M296.5,373.5 V384" stroke="#e8e8e8" stroke-width="1" fill="none"/>
<circle cx="438" cy="354.5" r="2.4" fill="#fff"/>
<text x="442" y="359" fill="#ffffff" stroke="#ffffff" stroke-width="0.3" font-size="12" >买点</text>
<text x="424" y="380" fill="#ff30b0" stroke="#ff30b0" stroke-width="0.3" font-size="12" >红底</text>
<text x="984" y="56" fill="#c8c8c8" stroke="#c8c8c8" stroke-width="0.3" font-size="12" >7.44</text>
<path d="M972.5,49.5 H983 M972.5,49.5 l3,-2.5 M972.5,49.5 l3,2.5" stroke="#c8c8c8" stroke-width="1" fill="none"/>
<text x="1028" y="83" fill="#00d0d0" stroke="#00d0d0" stroke-width="0.3" font-size="12" >顺</text>
<text x="1030" y="94" fill="#00e000" stroke="#00e000" stroke-width="0.3" font-size="12" >势</text>
<text x="1028" y="100.5" fill="#a0a0a0" stroke="#a0a0a0" stroke-width="0.3" font-size="12" >量能平台</text>
<text x="1028" y="120.5" fill="#ff8080" stroke="#ff8080" stroke-width="0.3" font-size="12" >杀入线</text>
<text x="1028" y="186" fill="#ff00ff" stroke="#ff00ff" stroke-width="0.3" font-size="12" >买</text>
<text x="1028" y="306" fill="#ff2020" stroke="#ff2020" stroke-width="0.3" font-size="12" >底</text>
<rect x="0" y="396" width="73" height="13" fill="#000"/>
<text x="1" y="406" fill="#808080" stroke="#808080" stroke-width="0.3" font-size="12" >用到未来数据</text>
<rect x="43" y="408" width="13" height="14" fill="#008000"/>
<text x="43.5" y="419.5" fill="#fff" stroke="#fff" stroke-width="0.3" font-size="12" >港</text>
<rect x="636" y="408" width="13" height="13" fill="#800000"/>
<text x="636.5" y="419" fill="#fff" stroke="#fff" stroke-width="0.3" font-size="12" >增</text>
<use href="#icT" x="9.8" y="317.4"/>
<use href="#icT" x="21.2" y="303.9"/>
<use href="#icT" x="36.1" y="267.2"/>
<use href="#icT" x="65" y="252.4"/>
<use href="#icT" x="80.1" y="261.3"/>
<use href="#icT" x="95.1" y="261.3"/>
<use href="#icT" x="110" y="256.5"/>
<use href="#icT" x="125.1" y="267.0"/>
<use href="#icT" x="138.8" y="287.4"/>
<use href="#icT" x="154" y="295.4"/>
<use href="#icT" x="169" y="297.1"/>
<use href="#icT" x="184" y="277.5"/>
<use href="#icT" x="199" y="273.4"/>
<use href="#icT" x="213.1" y="285.2"/>
<use href="#icT" x="228.1" y="283.4"/>
<use href="#icT" x="243.3" y="307.3"/>
<use href="#icT" x="258.2" y="318.5"/>
<use href="#icT" x="273" y="324.6"/>
<use href="#icT" x="317.2" y="287.5"/>
<use href="#icT" x="332" y="263.6"/>
<use href="#icT" x="361.2" y="256.8"/>
<use href="#icT" x="376.3" y="271.6"/>
<use href="#icT" x="391.1" y="293.3"/>
<use href="#icT" x="406" y="299.4"/>
<use href="#icT" x="450.2" y="240.6"/>
<use href="#icT" x="465" y="191.4"/>
<use href="#icT" x="479.9" y="218.5"/>
<use href="#icT" x="494.8" y="232.8"/>
<use href="#icT" x="510" y="222.6"/>
<use href="#icT" x="523.9" y="236.5"/>
<use href="#icT" x="538.8" y="236.5"/>
<use href="#icT" x="554" y="242.1"/>
<use href="#icT" x="569" y="254.5"/>
<use href="#icT" x="583.9" y="218.3"/>
<use href="#icT" x="598.2" y="218.3"/>
<use href="#icT" x="613" y="205.8"/>
<use href="#icT" x="628" y="217.9"/>
<use href="#icT" x="643" y="212.3"/>
<use href="#icT" x="657.8" y="210.1"/>
<use href="#icT" x="671.8" y="200.2"/>
<use href="#icT" x="687" y="179.3"/>
<use href="#icT" x="701.8" y="155.3"/>
<use href="#icT" x="716.7" y="178.0"/>
<use href="#icT" x="731.6" y="178.0"/>
<use href="#icT" x="746.4" y="179.8"/>
<use href="#icT" x="761.6" y="161.2"/>
<use href="#icT" x="776.2" y="134.2"/>
<use href="#icT" x="791" y="125.9"/>
<use href="#icT" x="805.9" y="145.4"/>
<use href="#icT" x="820.9" y="151.5"/>
<use href="#icT" x="835.2" y="164.9"/>
<use href="#icT" x="850" y="167.1"/>
<use href="#icT" x="865" y="151.5"/>
<use href="#icT" x="879.8" y="145.4"/>
<use href="#icT" x="895.3" y="136.8"/>
<use href="#icT" x="909" y="118.7"/>
<use href="#icT" x="924.2" y="82.3"/>
<use href="#icT" x="939.1" y="77.2"/>
<use href="#icT" x="954.1" y="75.4"/>
<use href="#icT" x="968.8" y="51.2"/>
<use href="#icT" x="983.3" y="59.6"/>
<use href="#icT" x="998.1" y="69.3"/>
<use href="#icT" x="1013.4" y="51.2"/>
<circle cx="924.2" cy="94.9" r="6.6" fill="#fff"/>
<use href="#icO" x="286.6" y="388.2"/>
<use href="#icO" x="346.9" y="274.4"/>
<use href="#icO" x="421" y="387"/>
<use href="#icO" x="1027.8" y="92.4"/>
<use href="#icR" x="273" y="379.9"/>
<use href="#icR" x="406" y="364.1"/>
<use href="#icP" x="317.2" y="325.8"/>
<use href="#icH" transform="translate(49.5,319.5) scale(1.0)"/>
<use href="#icH" transform="translate(627.6,242.7) scale(1.0)"/>
<use href="#icH" transform="translate(908.6,158.3) scale(1.0)"/>
<path d="M46.8,310.2 L50,305.6 L53.2,310.2Z" fill="#ff1010"/><path d="M45.2,312.2 L50,310.4 L55,312.2Z" fill="#ffe838"/>
<use href="#icHand" x="835" y="160.6"/>
<circle cx="72.5" cy="247.5" r="2.7" fill="#00ff00"/><rect x="65" y="247" width="3" height="1" fill="#00ff00"/>
<text x="75.5" y="252.5" fill="#00ff00" stroke="#00ff00" stroke-width="0.3" font-size="12" >出货</text>
<circle cx="724" cy="173.6" r="2.6" fill="#00ff00"/><rect x="716" y="173" width="3" height="1" fill="#00ff00"/>
<text x="727" y="178" fill="#00ff00" stroke="#00ff00" stroke-width="0.3" font-size="12" >出货</text>
<circle cx="961.4" cy="71.4" r="2.6" fill="#00ff00"/><rect x="954" y="71" width="3" height="1" fill="#00ff00"/>
<text x="965" y="76.5" fill="#00ff00" stroke="#00ff00" stroke-width="0.3" font-size="12" >出货</text>
<line x1="52" y1="230.5" x2="1027" y2="124.5" stroke="#0000ff" stroke-width="1" stroke-dasharray="4 4" shape-rendering="crispEdges"/>
<line x1="803" y1="114" x2="1028" y2="21" stroke="#00c8d8" stroke-width="1" stroke-dasharray="3 4" shape-rendering="crispEdges"/>
<use href="#icDn" x="8" y="431"/>
<text x="18.5" y="435" fill="#d0d0d0" stroke="#d0d0d0" stroke-width="0.3" font-size="12" >KDJ(9,3,3)</text>
<text x="81" y="435" fill="#d0d0d0" stroke="#d0d0d0" stroke-width="0.3" font-size="12" >K: 79.78</text>
<text x="131.5" y="435" fill="#ffff00" stroke="#ffff00" stroke-width="0.3" font-size="12" >D: 80.68</text>
<text x="182" y="435" fill="#ff00ff" stroke="#ff00ff" stroke-width="0.3" font-size="12" >J: 77.97</text>
<polyline points="6.5,493.6 21.5,493.4 36.5,487.8 50.5,481.8 65.5,479.3 80.5,476.5 95.5,475.0 110.5,475.3 125.5,477.8 139.5,479.8 154.5,484.8 169.5,490.4 184.5,492.9 199.5,493.6 213.5,493.6 228.5,495.9 243.5,497.4 258.5,498.4 273.5,499.9 287.5,500.9 302.5,499.4 317.5,493.6 332.5,486.6 347.5,480.8 361.5,476.5 376.5,474.0 391.5,474.8 406.5,477.8 421.5,482.1 435.5,482.3 450.5,479.0 465.5,475.8 480.5,473.3 495.5,472.0 510.5,470.8 524.5,470.3 539.5,469.0 554.5,470.8 569.5,474.8 584.5,478.5 598.5,476.5 613.5,475.3 628.5,473.5 643.5,472.3 658.5,470.8 672.5,469.0 687.5,466.5 702.5,465.2 717.5,466.5 732.5,468.5 746.5,471.5 761.5,471.0 776.5,469.0 791.5,467.7 806.5,469.0 821.5,470.8 835.5,475.8 850.5,480.3 865.5,482.3 880.5,484.6 895.5,484.6 909.5,480.3 924.5,477.3 939.5,472.3 954.5,468.5 969.5,464.7 983.5,464.5 998.5,464.5 1013.5,463.2 1028.5,464.0" fill="none" stroke="#ffff00" stroke-width="1" stroke-linejoin="round" shape-rendering="crispEdges" />
<polyline points="6.5,497.1 21.5,492.9 36.5,479.0 50.5,470.8 65.5,472.3 80.5,471.5 95.5,473.5 110.5,475.3 125.5,480.3 139.5,484.1 154.5,493.6 169.5,501.7 184.5,496.6 199.5,494.4 213.5,494.1 228.5,500.4 243.5,499.9 258.5,498.4 273.5,503.4 287.5,503.4 302.5,495.4 317.5,482.8 332.5,473.3 347.5,468.5 361.5,467.2 376.5,470.3 391.5,476.5 406.5,484.8 421.5,491.1 435.5,484.1 450.5,472.3 465.5,469.0 480.5,467.7 495.5,467.7 510.5,469.0 524.5,469.5 539.5,468.2 554.5,473.3 569.5,481.0 584.5,485.8 598.5,473.3 613.5,473.3 628.5,470.8 643.5,470.3 658.5,467.7 672.5,466.5 687.5,461.5 702.5,462.2 717.5,469.5 732.5,473.3 746.5,475.8 761.5,471.5 776.5,464.7 791.5,467.2 806.5,469.0 821.5,474.8 835.5,484.8 850.5,489.1 865.5,486.6 880.5,488.3 895.5,484.8 909.5,473.3 924.5,469.0 939.5,462.2 954.5,459.4 969.5,458.2 983.5,462.0 998.5,464.7 1013.5,461.5 1028.5,464.0" fill="none" stroke="#ffffff" stroke-width="1" stroke-linejoin="round" shape-rendering="crispEdges" />
<polyline points="6.5,506.7 21.5,491.6 36.5,457.7 50.5,447.1 65.5,457.7 80.5,460.2 95.5,469.0 110.5,474.0 125.5,487.3 139.5,494.9 154.5,515.0 169.5,522.5 184.5,505.0 199.5,497.9 213.5,494.6 228.5,511.0 243.5,503.4 258.5,498.4 273.5,512.5 287.5,509.2 302.5,489.1 317.5,464.0 332.5,445.9 347.5,443.1 361.5,450.2 376.5,461.5 391.5,477.3 406.5,494.1 421.5,509.2 435.5,484.1 450.5,458.9 465.5,455.7 480.5,458.9 495.5,462.2 510.5,465.2 524.5,466.5 539.5,466.5 554.5,476.5 569.5,494.1 584.5,500.4 598.5,467.2 613.5,469.5 628.5,463.5 643.5,464.7 658.5,460.2 672.5,461.5 687.5,449.4 702.5,456.4 717.5,477.8 732.5,481.6 746.5,485.8 761.5,471.5 776.5,455.7 791.5,466.5 806.5,471.5 821.5,482.8 835.5,501.2 850.5,508.4 865.5,494.1 880.5,497.4 895.5,485.8 909.5,458.9 924.5,453.9 939.5,443.4 954.5,442.6 969.5,445.9 983.5,458.2 998.5,465.7 1013.5,458.2 1028.5,465.7" fill="none" stroke="#ff00ff" stroke-width="1" stroke-linejoin="round" shape-rendering="crispEdges" />
<use href="#icDn" x="8" y="533"/>
<text x="18.5" y="536.5" fill="#d0d0d0" stroke="#d0d0d0" stroke-width="0.3" font-size="12" >VOLUME: 205449</text>
<text x="120.5" y="536.5" fill="#d0d0d0" stroke="#d0d0d0" stroke-width="0.3" font-size="12" >MA5: 264049</text>
<text x="196.5" y="536.5" fill="#ffff00" stroke="#ffff00" stroke-width="0.3" font-size="12" >MA10: 277119</text>
<g shape-rendering="crispEdges">
<rect x="1" y="596" width="11" height="15" fill="#54fcfc"/>
<rect x="16.5" y="588.5" width="10" height="23" fill="none" stroke="#ff3232"/>
<rect x="31.5" y="574.5" width="10" height="37" fill="none" stroke="#ff3232"/>
<rect x="45.5" y="545.5" width="10" height="66" fill="none" stroke="#ff3232"/>
<rect x="60.5" y="571.5" width="10" height="40" fill="none" stroke="#ff3232"/>
<rect x="75.5" y="583.5" width="10" height="28" fill="none" stroke="#ff3232"/>
<rect x="90" y="586" width="11" height="25" fill="#54fcfc"/>
<rect x="105.5" y="582.5" width="10" height="29" fill="none" stroke="#ff3232"/>
<rect x="120" y="590" width="11" height="21" fill="#54fcfc"/>
<rect x="134.5" y="595.5" width="10" height="16" fill="none" stroke="#ff3232"/>
<rect x="149" y="594" width="11" height="17" fill="#54fcfc"/>
<rect x="164.5" y="595.5" width="10" height="16" fill="none" stroke="#ff3232"/>
<rect x="179.5" y="588.5" width="10" height="23" fill="none" stroke="#ff3232"/>
<rect x="194" y="598" width="11" height="13" fill="#54fcfc"/>
<rect x="208.5" y="596.5" width="10" height="15" fill="none" stroke="#ff3232"/>
<rect x="223" y="597" width="11" height="14" fill="#54fcfc"/>
<rect x="238" y="583" width="11" height="28" fill="#54fcfc"/>
<rect x="253.5" y="598.5" width="10" height="13" fill="none" stroke="#ff3232"/>
<rect x="268" y="592" width="11" height="19" fill="#54fcfc"/>
<rect x="282.5" y="598.5" width="10" height="13" fill="none" stroke="#ff3232"/>
<rect x="297.5" y="594.5" width="10" height="17" fill="none" stroke="#ff3232"/>
<rect x="312.5" y="588.5" width="10" height="23" fill="none" stroke="#ff3232"/>
<rect x="327.5" y="583.5" width="10" height="28" fill="none" stroke="#ff3232"/>
<rect x="342.5" y="582.5" width="10" height="29" fill="none" stroke="#ff3232"/>
<rect x="356" y="589" width="11" height="22" fill="#54fcfc"/>
<rect x="371" y="589" width="11" height="22" fill="#54fcfc"/>
<rect x="386" y="589" width="11" height="22" fill="#54fcfc"/>
<rect x="401" y="588" width="11" height="23" fill="#54fcfc"/>
<rect x="416" y="578" width="11" height="33" fill="#54fcfc"/>
<rect x="430.5" y="577.5" width="10" height="34" fill="none" stroke="#ff3232"/>
<rect x="445.5" y="564.5" width="10" height="47" fill="none" stroke="#ff3232"/>
<rect x="460.5" y="563.5" width="10" height="48" fill="none" stroke="#ff3232"/>
<rect x="475" y="578" width="11" height="33" fill="#54fcfc"/>
<rect x="490" y="589" width="11" height="22" fill="#54fcfc"/>
<rect x="505" y="585" width="11" height="26" fill="#54fcfc"/>
<rect x="519.5" y="593.5" width="10" height="18" fill="none" stroke="#ff3232"/>
<rect x="534.5" y="592.5" width="10" height="19" fill="none" stroke="#ff3232"/>
<rect x="549" y="587" width="11" height="24" fill="#54fcfc"/>
<rect x="564.5" y="593.5" width="10" height="18" fill="none" stroke="#ff3232"/>
<rect x="579.5" y="576.5" width="10" height="35" fill="none" stroke="#ff3232"/>
<rect x="593.5" y="581.5" width="10" height="30" fill="none" stroke="#ff3232"/>
<rect x="608" y="590" width="11" height="21" fill="#54fcfc"/>
<rect x="623.5" y="590.5" width="10" height="21" fill="none" stroke="#ff3232"/>
<rect x="638" y="589" width="11" height="22" fill="#54fcfc"/>
<rect x="653.5" y="588.5" width="10" height="23" fill="none" stroke="#ff3232"/>
<rect x="667.5" y="583.5" width="10" height="28" fill="none" stroke="#ff3232"/>
<rect x="682.5" y="572.5" width="10" height="39" fill="none" stroke="#ff3232"/>
<rect x="697" y="575" width="11" height="36" fill="#54fcfc"/>
<rect x="712" y="584" width="11" height="27" fill="#54fcfc"/>
<rect x="727.5" y="585.5" width="10" height="26" fill="none" stroke="#ff3232"/>
<rect x="741.5" y="594.5" width="10" height="17" fill="none" stroke="#ff3232"/>
<rect x="756.5" y="584.5" width="10" height="27" fill="none" stroke="#ff3232"/>
<rect x="771.5" y="572.5" width="10" height="39" fill="none" stroke="#ff3232"/>
<rect x="786" y="588" width="11" height="23" fill="#54fcfc"/>
<rect x="801" y="592" width="11" height="19" fill="#54fcfc"/>
<rect x="816" y="594" width="11" height="17" fill="#54fcfc"/>
<rect x="830" y="589" width="11" height="22" fill="#54fcfc"/>
<rect x="845.5" y="592.5" width="10" height="19" fill="none" stroke="#ff3232"/>
<rect x="860.5" y="589.5" width="10" height="22" fill="none" stroke="#ff3232"/>
<rect x="875" y="591" width="11" height="20" fill="#54fcfc"/>
<rect x="890.5" y="585.5" width="10" height="26" fill="none" stroke="#ff3232"/>
<rect x="904.5" y="585.5" width="10" height="26" fill="none" stroke="#ff3232"/>
<rect x="919.5" y="578.5" width="10" height="33" fill="none" stroke="#ff3232"/>
<rect x="934.5" y="579.5" width="10" height="32" fill="none" stroke="#ff3232"/>
<rect x="949" y="588" width="11" height="23" fill="#54fcfc"/>
<rect x="964.5" y="580.5" width="10" height="31" fill="none" stroke="#ff3232"/>
<rect x="978" y="581" width="11" height="30" fill="#54fcfc"/>
<rect x="993.5" y="591.5" width="10" height="20" fill="none" stroke="#ff3232"/>
<rect x="1008.5" y="585.5" width="10" height="26" fill="none" stroke="#ff3232"/>
<rect x="1023" y="591" width="11" height="20" fill="#54fcfc"/>
</g>
<polyline points="6.3,598.6 25.0,596.9 40.0,593.1 55.3,588.8 70.4,585.6 85.4,584.3 100.5,582.8 120.6,581.8 150.8,581.8 173.4,581.8 186.0,583.8 196.0,587.3 211.0,590.6 226.0,591.8 251.0,592.3 260.0,593.0 285.0,593.8 310.0,593.8 330.0,592.6 350.5,590.8 370.5,588.8 395.7,589.8 415.8,588.8 430.8,586.8 446.0,584.3 461.0,581.8 468.5,580.5 520.0,579.8 530.0,581.8 560.0,581.8 570.0,583.0 595.0,583.5 610.5,586.3 630.5,587.3 655.7,588.3 675.8,586.8 691.0,584.3 706.0,583.0 721.0,583.5 741.0,585.0 761.0,583.5 771.0,583.0 792.0,583.0 811.0,583.5 831.0,585.5 856.0,588.0 886.4,588.8 911.5,588.0 931.6,588.0 951.7,586.8 971.8,585.5 992.0,585.0 1028.3,585.0" fill="none" stroke="#ffff00" stroke-width="1" stroke-linejoin="round" shape-rendering="crispEdges" />
<polyline points="6.3,598.1 15.0,596.9 35.0,591.3 45.2,584.3 55.3,577.3 70.4,573.0 85.4,571.7 100.5,572.2 110.5,573.7 120.6,579.8 130.6,585.5 145.7,589.3 160.8,591.3 175.9,592.3 191.0,593.1 208.5,594.3 226.0,593.6 241.0,592.3 253.8,593.8 271.0,593.8 285.0,594.4 310.0,593.8 330.3,591.3 350.5,588.8 370.5,586.8 395.7,586.8 415.8,586.8 430.8,585.0 446.0,579.8 461.0,575.5 471.0,573.5 481.0,572.5 496.0,574.2 511.0,576.8 524.0,580.5 532.6,584.3 545.0,588.0 560.0,589.8 570.0,590.6 585.0,588.8 595.4,585.0 605.4,584.3 620.5,585.5 640.6,585.0 655.7,587.3 670.8,588.0 680.8,585.5 690.9,583.5 701.0,581.3 716.0,580.5 736.0,580.5 751.0,583.0 771.0,584.3 792.0,584.3 811.0,585.0 831.0,588.0 846.0,590.6 871.3,591.3 886.4,588.8 911.5,586.8 921.5,585.5 936.6,583.5 961.8,583.5 976.8,581.8 987.0,582.3 997.0,584.3 1028.3,584.3" fill="none" stroke="#ffffff" stroke-width="1" stroke-linejoin="round" shape-rendering="crispEdges" />
<g shape-rendering="crispEdges">
<rect x="0" y="0" width="1083" height="1" fill="#c00000" />
<rect x="0" y="422" width="1083" height="1" fill="#c00000" />
<rect x="0" y="524" width="1083" height="1" fill="#c00000" />
<rect x="0" y="611" width="1083" height="1" fill="#c00000" />
<rect x="1081" y="0" width="1" height="614" fill="#c00000"/>
<rect x="1082" y="0" width="1" height="19" fill="#c00000"/>
<rect x="1082" y="19" width="1" height="16" fill="#0000c0"/>
<rect x="25" y="612" width="76" height="2" fill="#0000a8"/><rect x="24" y="611" width="1" height="3" fill="#c00000"/>
<rect x="146" y="612" width="1" height="2" fill="#c00000"/>
<rect x="227" y="612" width="1" height="2" fill="#c00000"/>
<rect x="309" y="612" width="1" height="2" fill="#c00000"/>
<rect x="446" y="612" width="1" height="2" fill="#c00000"/>
<rect x="501" y="612" width="1" height="2" fill="#c00000"/>
<rect x="557" y="612" width="1" height="2" fill="#c00000"/>
<rect x="612" y="612" width="1" height="2" fill="#c00000"/>
<rect x="690" y="612" width="1" height="2" fill="#c00000"/>
<rect x="768" y="612" width="1" height="2" fill="#c00000"/>
<rect x="845" y="612" width="1" height="2" fill="#c00000"/>
<rect x="923" y="612" width="1" height="2" fill="#c00000"/>
</g>
<path d="M1053.5,5 L1059,10.5 L1053.5,16 L1048,10.5Z" fill="none" stroke="#808080" stroke-width="1"/>
<rect x="1066.5" y="5.5" width="11.5" height="10.5" rx="2" fill="none" stroke="#808080" stroke-width="1"/><rect x="1073" y="7" width="3.2" height="7.5" fill="#808080"/>
</g></svg></body></html>
